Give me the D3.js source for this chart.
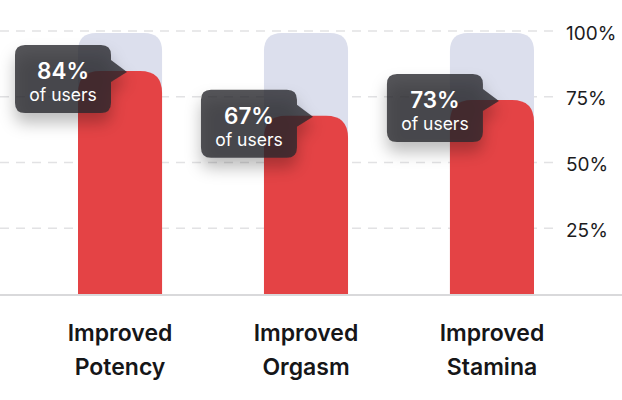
<!DOCTYPE html>
<html><head><meta charset="utf-8">
<script src="https://cdn.jsdelivr.net/npm/d3@7/dist/d3.min.js"></script>
<style>
html,body{margin:0;padding:0;background:#fff;}
svg{display:block;font-family:Inter, "Noto Sans", sans-serif;}
</style></head>
<body>
<svg id="chart" width="622" height="400"></svg>
<script>
const categories = ["Improved Potency", "Improved Orgasm", "Improved Stamina"];
const values = [84, 67, 73];
const maxValues = [100, 100, 100];
const tickValues = [25, 50, 75, 100];
const valueLabels = ["84%", "67%", "73%"];
const subLabel = "of users";

const W = 622, H = 400;
const svg = d3.select("#chart");
const defs = svg.append("defs");
const f = defs.append("filter").attr("id","sh").attr("x","-50%").attr("y","-50%").attr("width","200%").attr("height","220%");
f.append("feDropShadow").attr("dx",0).attr("dy",10).attr("stdDeviation",8).attr("flood-color","#000").attr("flood-opacity",0.33);

const x = d3.scaleBand().domain(categories).range([78, 534]).paddingInner(0.548).paddingOuter(0);
const y = d3.scaleLinear().domain([0, 100]).range([294, 31]);

// gridlines
svg.append("g").selectAll("line").data(tickValues).join("line")
  .attr("x1", 0).attr("x2", 556)
  .attr("y1", d => y(d)).attr("y2", d => y(d))
  .attr("stroke", "#e2e2e4").attr("stroke-width", 1.5).attr("stroke-dasharray", "9,7");

// axis labels
const yAxis = d3.axisRight(y).tickValues(tickValues).tickFormat(d => d + "%").tickSize(0).tickPadding(0);
const ag = svg.append("g").attr("transform", "translate(566,2)").call(yAxis);
ag.select(".domain").remove();
ag.selectAll("text").attr("font-size", 19).attr("fill", "#1c1c1e").attr("font-family", "Inter, sans-serif");

function topRounded(x0, y0, w, h, r) {
  r = Math.min(r, w/2, h);
  return `M${x0},${y0+h}V${y0+r}Q${x0},${y0} ${x0+r},${y0}H${x0+w-r}Q${x0+w},${y0} ${x0+w},${y0+r}V${y0+h}Z`;
}

const bw = x.bandwidth();
// background bars
svg.append("g").selectAll("path").data(categories).join("path")
  .attr("d", (c, i) => topRounded(x(c), y(maxValues[i]) + 2, bw, y(0) - y(maxValues[i]) - 2, 18))
  .attr("fill", "#dcdfed");

// value bars
svg.append("g").selectAll("path").data(categories).join("path")
  .attr("d", (c, i) => topRounded(x(c), y(values[i]) - 2, bw, y(0) - y(values[i]) + 2, 22))
  .attr("fill", "#e44345");

// baseline
svg.append("line").attr("x1", 0).attr("x2", W).attr("y1", 295).attr("y2", 295)
  .attr("stroke", "#d9d9db").attr("stroke-width", 2);

// category labels
const cl = svg.append("g").selectAll("text").data(categories).join("text")
  .attr("x", c => x(c) + bw/2).attr("text-anchor", "middle")
  .attr("font-size", 23).attr("font-weight", 600).attr("fill", "#161618");
cl.append("tspan").attr("y", 341).attr("x", c => x(c) + bw/2).text(c => c.split(" ")[0]);
cl.append("tspan").attr("y", 375).attr("x", c => x(c) + bw/2).text(c => c.split(" ")[1]);

// tooltips
const tw = 96, th = 68;
const tg = svg.append("g").selectAll("g").data(categories).join("g")
  .attr("transform", (c, i) => `translate(${x(c) - 63},${y(values[i]) - 28})`);
tg.append("path")
  .attr("d", () => {
    const r = 10;
    return `M${r},0H${tw-r}Q${tw},0 ${tw},${r}V${15}L${tw+16},${27}L${tw},${37}V${th-r}Q${tw},${th} ${tw-r},${th}H${r}Q0,${th} 0,${th-r}V${r}Q0,0 ${r},0Z`;
  })
  .attr("fill", "rgba(40,40,44,0.79)")
  .attr("filter", "url(#sh)");
tg.append("text").attr("x", tw/2).attr("y", 34).attr("text-anchor", "middle")
  .attr("font-size", 22.5).attr("font-weight", 600).attr("fill", "#fff")
  .text((c, i) => valueLabels[i]);
tg.append("text").attr("x", tw/2).attr("y", 56).attr("text-anchor", "middle")
  .attr("font-size", 17.5).attr("fill", "#fff")
  .text(subLabel);
</script>
</body></html>
